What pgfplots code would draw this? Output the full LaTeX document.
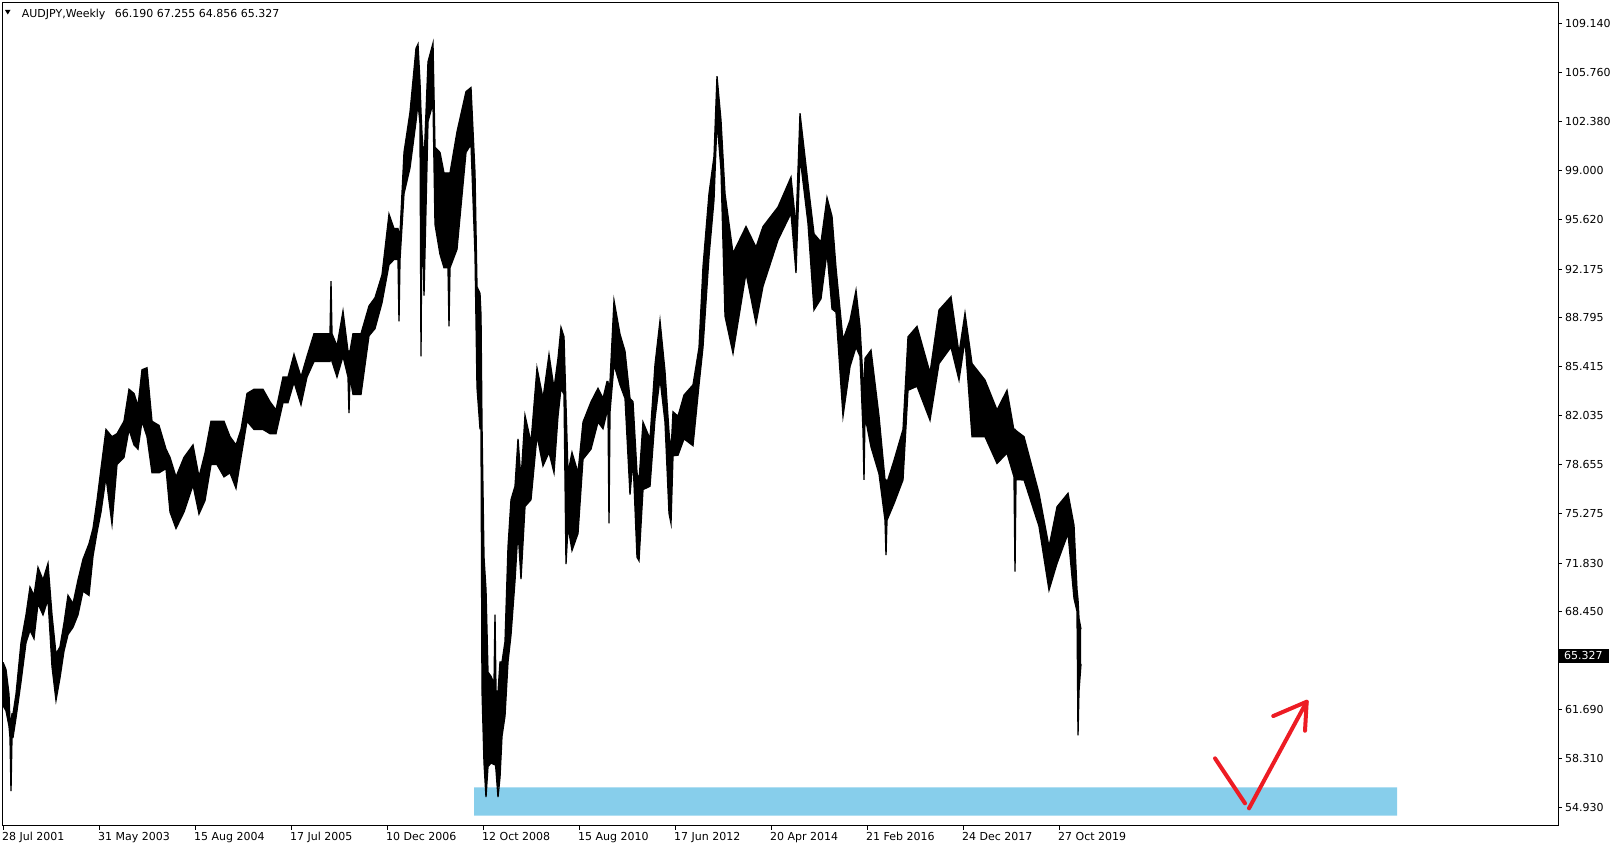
\documentclass[border=0pt]{standalone}
\usepackage{fontspec}
\setmainfont{DejaVu Sans}
\usepackage{pgfplots}
\pgfplotsset{compat=1.18}
\usepgfplotslibrary{fillbetween}
\usepackage{pgfplotstable}
\definecolor{zone}{HTML}{87CEEB}
\definecolor{pen}{HTML}{ED1C24}

\pgfplotstableread{
w hi lo
0 64.97 61.97
3 64.47 61.62
6 62.76 60.55
7 60.83 59.77
8 60.83 56.06
9 61.40 59.77
10 61.40 59.77
13 62.76 61.12
18 66.32 63.61
23 68.25 66.32
27 70.17 67.18
31 69.60 66.61
35 71.53 69.03
40 70.67 68.25
45 71.81 69.32
49 68.25 64.68
53 65.54 62.33
57 66.04 63.90
61 67.68 65.75
65 69.60 66.89
70 69.03 67.39
75 70.67 68.25
80 72.10 69.89
86 73.17 69.60
90 74.23 72.31
94 76.16 73.95
98 78.37 75.37
103 81.08 77.80
109 80.58 74.52
114 80.79 78.65
121 81.65 79.15
126 83.86 81.08
131 83.57 80.01
135 82.72 79.72
139 85.21 81.65
144 85.35 80.58
149 81.65 78.08
156 81.36 78.08
163 79.72 78.37
167 79.15 75.37
173 77.80 74.23
181 79.15 75.37
190 80.01 77.23
196 77.80 75.23
202 79.44 76.16
208 81.65 78.65
214 81.65 78.65
221 81.65 77.80
227 80.58 78.08
233 80.01 77.01
238 81.08 79.15
244 83.57 81.65
251 83.86 81.08
260 83.86 81.08
267 83.00 80.79
273 82.43 80.79
280 84.71 82.93
285 84.71 82.93
291 86.28 84.36
298 84.71 82.79
304 86.14 84.71
311 87.71 85.78
318 87.71 85.78
324 87.71 85.78
327 87.71 85.78
328 91.34 86.14
329 87.71 85.78
334 86.85 84.71
340 89.27 86.14
345 86.50 84.71
346 86.50 82.22
347 86.50 84.71
350 87.71 83.50
358 87.71 83.50
366 89.63 87.56
372 90.20 88.06
379 91.77 89.85
386 95.98 92.48
391 94.98 92.84
395 94.98 92.84
396 94.62 88.56
397 94.62 92.84
401 100.25 97.40
407 103.03 99.18
413 107.45 102.39
415 107.74 103.67
417 105.10 102.25
418 103.03 86.14
419 101.53 96.55
421 99.54 90.34
425 106.52 102.39
430 107.81 103.67
432 100.61 95.26
437 100.25 93.20
441 98.83 92.27
445 98.83 92.27
446 98.83 88.21
447 98.83 92.27
454 101.68 93.55
463 104.46 100.25
468 104.74 100.82
472 98.83 93.20
474 90.95 84.00
477 90.50 81.13
478 89.00 81.13
479 81.36 63.00
481 72.24 58.00
483 70.00 55.64
485 64.29 57.75
488 64.00 58.00
491 63.50 57.90
492 68.27 58.22
493 63.00 57.50
495 62.89 55.64
497 64.99 57.00
499 64.99 59.85
502 66.40 61.25
505 72.95 64.99
508 76.22 66.86
512 77.15 70.61
515 80.43 74.11
518 77.62 70.72
522 82.06 75.75
528 80.19 76.22
534 85.34 80.66
540 83.23 78.56
546 86.27 79.49
551 83.93 78.09
555 86.00 82.00
558 88.14 83.93
561 87.50 83.50
563 82.76 71.77
565 78.09 74.35
569 79.49 72.71
575 78.09 73.88
580 81.59 79.02
588 82.99 79.72
595 83.93 81.59
600 83.23 81.13
604 84.40 82.30
605 84.40 82.30
606 83.50 74.58
607 84.40 82.30
611 90.01 85.57
617 87.67 84.17
622 86.50 83.23
627 83.23 76.57
630 83.00 79.02
634 78.09 72.24
636 77.50 72.00
640 81.59 76.92
647 80.43 77.15
652 85.57 81.83
657 88.61 84.63
662 85.10 81.59
666 80.89 75.28
668 79.50 74.58
670 82.30 79.26
675 82.00 79.30
681 83.46 80.43
690 84.17 79.96
696 86.74 84.17
700 92.34 86.78
706 97.40 93.05
711 99.97 96.97
714 105.53 102.46
718 102.46 99.04
722 97.40 88.92
730 93.27 86.35
743 95.12 91.91
753 93.69 88.42
760 95.12 90.99
775 96.47 94.19
788 98.54 96.05
793 95.12 91.91
797 102.96 99.97
805 98.11 95.33
811 94.62 89.35
818 94.05 90.13
824 97.12 93.34
829 95.83 89.42
833 92.27 89.20
840 87.28 82.00
847 88.63 85.43
853 90.70 86.78
857 88.21 86.14
860 84.50 81.00
861 83.79 77.59
862 86.00 82.00
868 86.57 79.87
876 82.00 78.01
882 77.59 74.80
883 77.59 72.38
884 77.40 74.80
891 78.94 75.95
900 81.08 77.59
905 87.49 83.79
914 88.21 84.07
927 85.00 81.72
936 89.35 85.64
948 90.27 86.78
956 86.35 84.50
962 89.13 87.28
969 85.64 80.58
982 84.50 80.58
994 82.43 78.73
1004 83.79 79.44
1011 81.00 77.80
1012 81.08 71.24
1013 81.00 77.60
1021 80.58 77.59
1036 76.66 74.38
1046 72.95 69.96
1054 75.73 71.81
1065 76.66 73.88
1071 74.45 69.39
1074 70.00 68.50
1075 69.32 59.91
1076 68.00 63.00
1078 67.26 64.86
}\bars

\begin{document}
\begin{tikzpicture}
\begin{axis}[
  at={(2pt,24pt)}, anchor=south west,
  scale only axis, width=1556pt, height=823pt,
  xmin=-1, xmax=1555, ymin=53.64, ymax=110.593,
  axis line style={line width=1pt, black},
  tick align=outside, major tick length=4pt,
  tick style={line width=1pt, black},
  xtick pos=bottom, ytick pos=right, yticklabel pos=right,
  xtick={0,96,192,288,384,480,576,672,768,864,960,1056},
  xticklabels={28 Jul 2001,31 May 2003,15 Aug 2004,17 Jul 2005,10 Dec 2006,12 Oct 2008,15 Aug 2010,17 Jun 2012,20 Apr 2014,21 Feb 2016,24 Dec 2017,27 Oct 2019},
  ytick={109.140,105.760,102.380,99.000,95.620,92.175,88.795,85.415,82.035,78.655,75.275,71.830,68.450,65.070,61.690,58.310,54.930},
  yticklabels={109.140,105.760,102.380,99.000,95.620,92.175,88.795,85.415,82.035,78.655,75.275,71.830,68.450,{},61.690,58.310,54.930},
  xticklabel style={anchor=north west, inner sep=0pt, yshift=-2pt, xshift=-1pt, font=\fontsize{11}{13}\selectfont},
  yticklabel style={anchor=west, inner sep=0pt, xshift=3pt, font=\fontsize{11}{13}\selectfont},
  clip=true,
]
\addplot[fill=zone, draw=none] coordinates {(471,54.35) (1394,54.35) (1394,56.32) (471,56.32) (471,54.35)};
\addplot[name path=H, draw=black, line width=1.3pt] table[x=w, y=hi] {\bars};
\addplot[name path=L, draw=black, line width=1.3pt] table[x=w, y=lo] {\bars};
\addplot[black] fill between[of=H and L];
\addplot[pen, line width=4pt, line cap=round] coordinates {(1212,58.32) (1242,55.21)};
\addplot[pen, line width=4pt, line cap=round] coordinates {(1246,54.86) (1303.7,62.24)};
\addplot[pen, line width=4pt, line cap=round, line join=round] coordinates {(1270.3,61.25) (1303.7,62.24) (1302,60.23)};
\end{axis}
\fill[black] (5pt,840pt) -- (10.5pt,840pt) -- (7.75pt,835.5pt) -- cycle;
\node[anchor=base west, inner sep=0pt, font=\fontsize{11}{13}\selectfont] at (21.7pt,832.7pt) {AUDJPY,Weekly\hspace{6pt} 66.190 67.255 64.856 65.327};
\fill[black] (1559pt,187.3pt) rectangle (1609pt,200.7pt);
\node[anchor=west, inner sep=0pt, text=white, font=\fontsize{11}{13}\selectfont] at (1564pt,194pt) {65.327};
\path (0,0) rectangle (1615pt,850pt);
\end{tikzpicture}
\end{document}
